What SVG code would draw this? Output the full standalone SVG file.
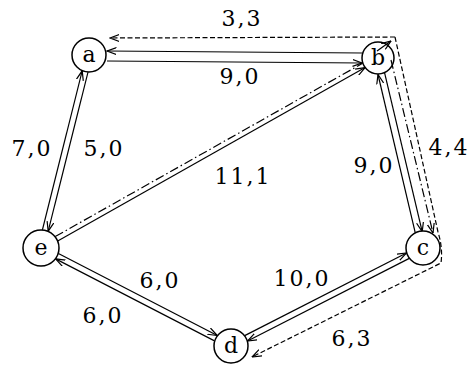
<svg xmlns="http://www.w3.org/2000/svg" width="472" height="365" viewBox="0 0 472 365">
<style>
.node circle{fill:#fff;stroke:#000;stroke-width:1.5}
.node text{font-family:"DejaVu Serif","Liberation Serif",serif;font-size:22px;text-anchor:middle;fill:#000}
.lbl{font-family:"DejaVu Serif","Liberation Serif",serif;font-size:22px;text-anchor:middle;fill:#000;letter-spacing:2px}
.s{fill:none;stroke:#000;stroke-width:1.2}
.dash{fill:none;stroke:#000;stroke-width:1.2;stroke-dasharray:5,2.5}
.dd{fill:none;stroke:#000;stroke-width:1.2;stroke-dasharray:9,3,1.5,3}
</style>
<defs>
<marker id="ar" viewBox="0 0 10 8" refX="9.5" refY="4" markerWidth="10" markerHeight="8" markerUnits="userSpaceOnUse" orient="auto">
<path d="M0,0.5 L9.5,4 L0,7.5" fill="none" stroke="#000" stroke-width="1.2"/>
</marker>
</defs>
<g id="connectors">
<path class="s" d="M362,53 L107,51" marker-end="url(#ar)"/>
<path class="s" d="M107,61 L362,63" marker-end="url(#ar)"/>
<path class="dash" d="M395,37 L110,38" marker-end="url(#ar)"/>
<path class="s" d="M42.4,229.8 L82.2,70.8" marker-end="url(#ar)"/>
<path class="s" d="M88,72.2 L48.2,231.2" marker-end="url(#ar)"/>
<path class="s" d="M57.7,240.9 L365.1,67.6" marker-end="url(#ar)"/>
<path class="dd" d="M55.2,236.6 L362.6,63.3"/>
<path class="s" d="M377,51 L391,41" marker-end="url(#ar)"/>
<path class="s" d="M415.4,233.3 L378,74.5" marker-end="url(#ar)"/>
<path class="s" d="M384.6,72.9 L422.2,231.7" marker-end="url(#ar)"/>
<path class="dd" d="M391,60 L433,233" marker-end="url(#ar)"/>
<path class="dash" d="M395,37 L438,232 Q443,248 441,263 L252,357" marker-end="url(#ar)"/>
<path class="s" d="M244.7,335.6 L406.5,253" marker-end="url(#ar)"/>
<path class="s" d="M409.3,258.4 L247.5,341" marker-end="url(#ar)"/>
<path class="s" d="M58.4,253.5 L217.3,335.5" marker-end="url(#ar)"/>
<path class="s" d="M214.5,340.9 L55.6,258.9" marker-end="url(#ar)"/>
</g>
<g id="labels">
<text class="lbl" x="242" y="26">3,3</text>
<text class="lbl" x="240" y="84">9,0</text>
<text class="lbl" x="32" y="156">7,0</text>
<text class="lbl" x="104" y="156">5,0</text>
<text class="lbl" x="243" y="184">11,1</text>
<text class="lbl" x="374" y="173">9,0</text>
<text class="lbl" x="449" y="155">4,4</text>
<text class="lbl" x="160" y="288">6,0</text>
<text class="lbl" x="103" y="323">6,0</text>
<text class="lbl" x="302" y="286">10,0</text>
<text class="lbl" x="352" y="346">6,3</text>
</g>
<g id="node-a" class="node"><circle cx="89" cy="55" r="17"/><text x="89" y="62">a</text></g>
<g id="node-b" class="node"><circle cx="378" cy="58" r="16" style="fill:none"/><text x="378" y="65">b</text></g>
<g id="node-c" class="node"><circle cx="423" cy="248" r="17"/><text x="423" y="255">c</text></g>
<g id="node-d" class="node"><circle cx="231" cy="346" r="17"/><text x="231" y="353">d</text></g>
<g id="node-e" class="node"><circle cx="41" cy="248" r="18"/><text x="41" y="255">e</text></g>
</svg>
